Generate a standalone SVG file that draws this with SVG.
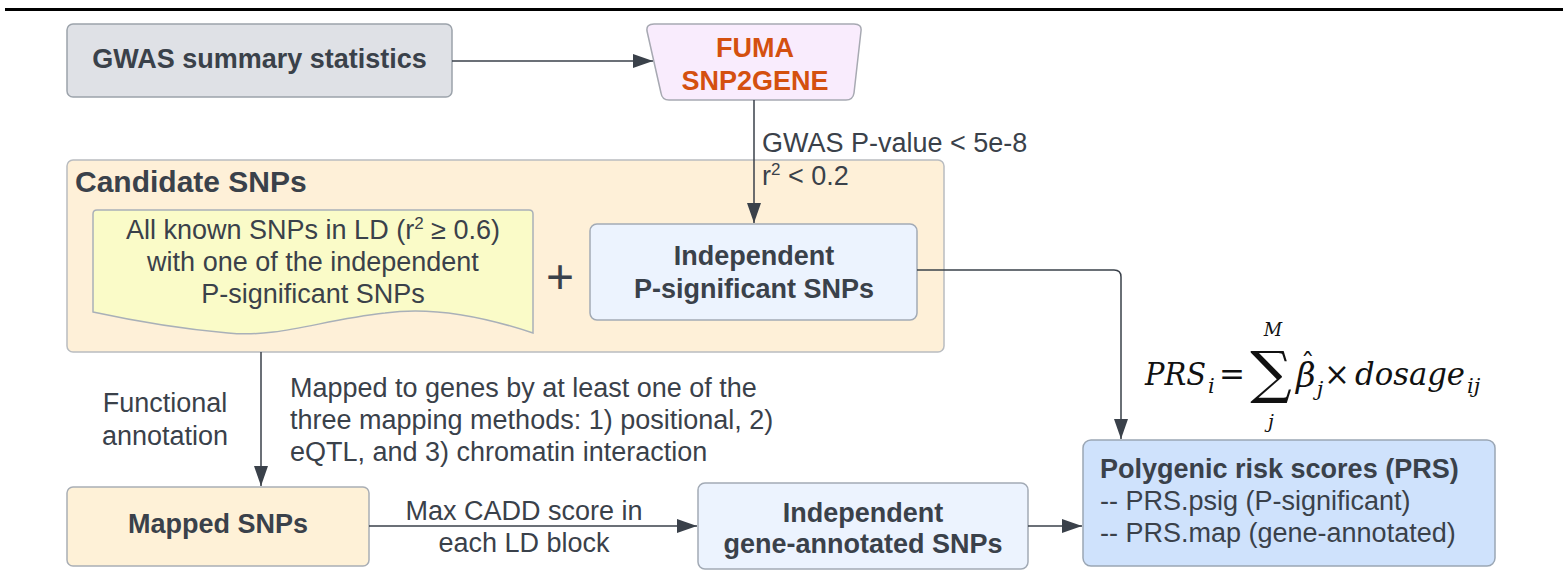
<svg xmlns="http://www.w3.org/2000/svg" width="1564" height="572" viewBox="0 0 1564 572">
<style>
  .t { font-family: "Liberation Sans", Arial, sans-serif; fill: #3a414a; font-size: 27px; }
  .b { font-weight: bold; }
  .c { text-anchor: middle; }
  .node { stroke-width: 1.5; }
  .edge { fill: none; stroke: #3a414a; stroke-width: 1.5; }
  .m { font-family: "DejaVu Serif", serif; font-style: italic; fill: #111; }
  .mn { font-family: "DejaVu Serif", serif; fill: #111; }
</style>
<defs>
  <marker id="arr" markerUnits="userSpaceOnUse" markerWidth="20" markerHeight="14" refX="20" refY="7" orient="auto">
    <path d="M0,0 L20,7 L0,14 Z" fill="#3a414a"/>
  </marker>
</defs>
<rect width="1564" height="572" fill="#ffffff"/>
<line x1="5" y1="9.5" x2="1563" y2="9.5" stroke="#000" stroke-width="3"/>

<g id="gwas">
  <rect class="node" x="67" y="24" width="385" height="73" rx="6" fill="#dfe1e6" stroke="#9ca3ab"/>
  <text class="t b c" x="259.5" y="68">GWAS summary statistics</text>
</g>

<g id="fuma">
  <path class="node" d="M654,24 H854 Q862,24 861,31 L854,93 Q853,100 846,100 H669 Q662,100 661,93 L647,31 Q646,24 654,24 Z" fill="#f9ecfd" stroke="#a7a9b2"/>
  <text class="t b c" x="755" y="57" style="fill:#d4500f">FUMA</text>
  <text class="t b c" x="755" y="90" style="fill:#d4500f">SNP2GENE</text>
</g>

<g id="candidate">
  <rect class="node" x="67" y="160" width="877" height="192" rx="6" fill="#fef0d8" stroke="#b9bcc0"/>
  <text class="t b" x="75" y="192" style="font-size:30px">Candidate SNPs</text>
</g>

<g id="ld-snps">
  <path class="node" d="M97,210 H529 Q533,210 533,214 V333 C470,312 420,308 385,313 C320,320 280,338 228,333 C170,328 130,320 93,312 V214 Q93,210 97,210 Z" fill="#fafbc8" stroke="#a9b0b8"/>
  <text class="t c" x="313" y="239">All known SNPs in LD (r<tspan dy="-10" style="font-size:17px">2</tspan><tspan dy="10"> ≥ 0.6)</tspan></text>
  <text class="t c" x="313" y="271">with one of the independent</text>
  <text class="t c" x="313" y="303">P-significant SNPs</text>
</g>

<g id="plus">
  <text class="t c" x="560" y="293" style="font-size:48px">+</text>
</g>

<g id="indep-psig">
  <rect class="node" x="590" y="224" width="327" height="96" rx="7" fill="#ecf3fe" stroke="#a2aab5"/>
  <text class="t b c" x="754" y="265">Independent</text>
  <text class="t b c" x="754" y="298">P-significant SNPs</text>
</g>

<g id="mapped">
  <rect class="node" x="67" y="487" width="302" height="79" rx="6" fill="#fef1d7" stroke="#a9aeb5"/>
  <text class="t b c" x="218" y="533">Mapped SNPs</text>
</g>

<g id="indep-gene">
  <rect class="node" x="698" y="483" width="330" height="86" rx="7" fill="#ecf3fe" stroke="#a2aab5"/>
  <text class="t b c" x="863" y="522">Independent</text>
  <text class="t b c" x="863" y="553">gene-annotated SNPs</text>
</g>

<g id="prs">
  <rect class="node" x="1083" y="440" width="412" height="126" rx="8" fill="#cfe2fc" stroke="#9aa6b4"/>
  <text class="t b" x="1100" y="478">Polygenic risk scores (PRS)</text>
  <text class="t" x="1100" y="510">-- PRS.psig (P-significant)</text>
  <text class="t" x="1100" y="542">-- PRS.map (gene-annotated)</text>
</g>

<g id="formula">
  <text class="m" x="1145" y="385" style="font-size:31px" textLength="61" lengthAdjust="spacingAndGlyphs">PRS</text>
  <text class="m" x="1208" y="393" style="font-size:21px">i</text>
  <text class="mn c" x="1232" y="385" style="font-size:31px">=</text>
  <text class="mn c" transform="translate(1271,392) scale(1.02,1)" x="0" y="0" style="font-size:57px">∑</text>
  <text class="m c" x="1273" y="336" style="font-size:18px">M</text>
  <text class="m c" x="1271" y="428" style="font-size:19px">j</text>
  <text class="m" x="1296" y="387" style="font-size:34px">β<tspan class="mn" dx="-15" dy="-14" style="font-size:28px;font-style:normal">ˆ</tspan><tspan dx="2" dy="23" style="font-size:21px">j</tspan></text>
  <text class="mn c" x="1337" y="385" style="font-size:31px">×</text>
  <text class="m" x="1355" y="385" style="font-size:31px" textLength="110" lengthAdjust="spacingAndGlyphs">dosage</text>
  <text class="m" x="1467" y="393" style="font-size:21px">ij</text>
</g>

<g id="connectors">
  <path class="edge" d="M452,61 H653" marker-end="url(#arr)"/>
  <path class="edge" d="M754,100 V223" marker-end="url(#arr)"/>
  <path class="edge" d="M917,270 H1114 Q1121,270 1121,277 V439" marker-end="url(#arr)"/>
  <path class="edge" d="M261,352 V486" marker-end="url(#arr)"/>
  <path class="edge" d="M369,526 H697" marker-end="url(#arr)"/>
  <path class="edge" d="M1028,526 H1082" marker-end="url(#arr)"/>
</g>

<g id="labels">
  <text class="t" x="762" y="152">GWAS P-value &lt; 5e-8</text>
  <text class="t" x="762" y="185">r<tspan dy="-10" style="font-size:17px">2</tspan><tspan dy="10"> &lt; 0.2</tspan></text>
  <text class="t c" x="165" y="412">Functional</text>
  <text class="t c" x="165" y="445">annotation</text>
  <text class="t" x="290" y="397">Mapped to genes by at least one of the</text>
  <text class="t" x="290" y="429">three mapping methods: 1) positional, 2)</text>
  <text class="t" x="290" y="461">eQTL, and 3) chromatin interaction</text>
  <text class="t c" x="524" y="520">Max CADD score in</text>
  <text class="t c" x="524" y="552">each LD block</text>
</g>
</svg>
